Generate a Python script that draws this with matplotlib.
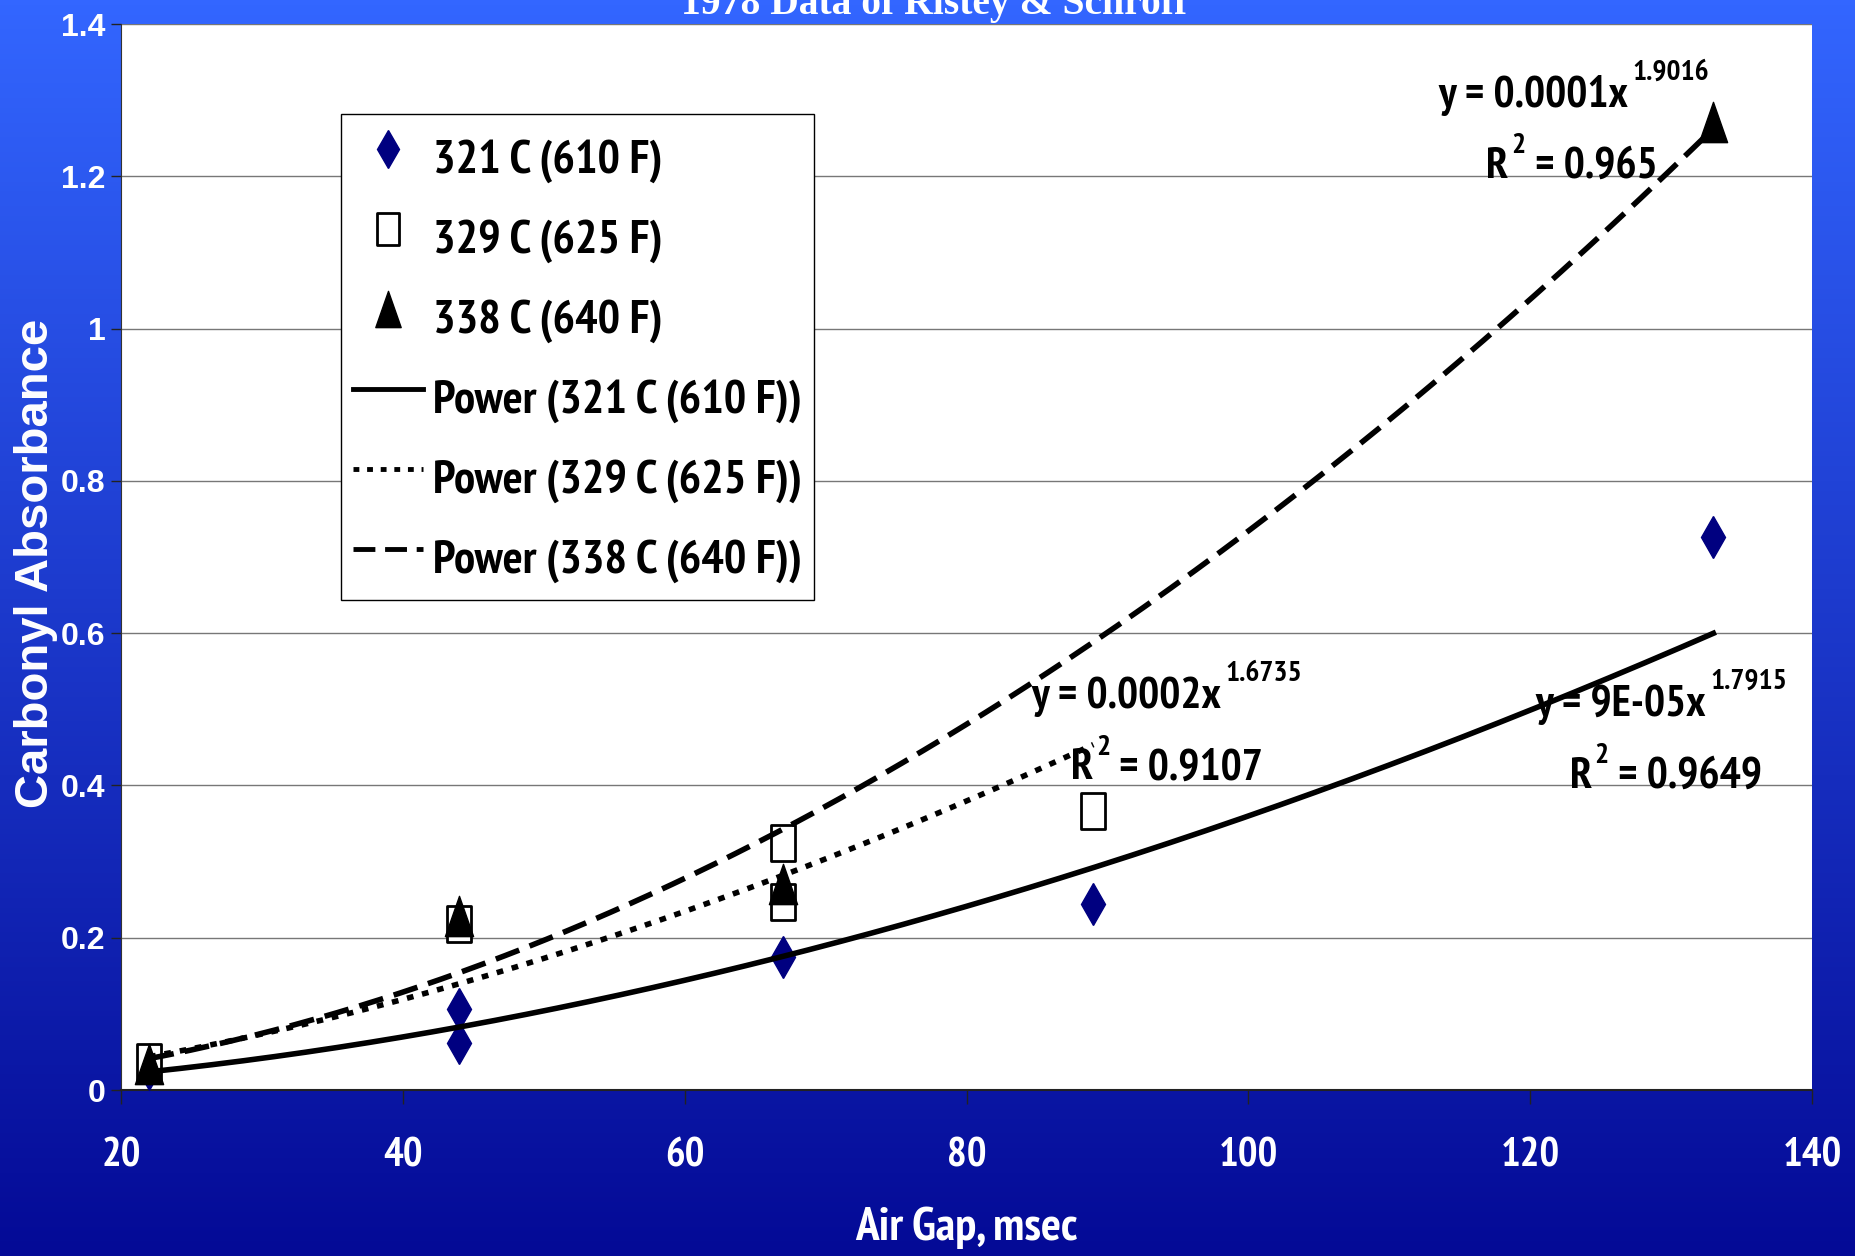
import os
import numpy as np
import matplotlib
matplotlib.use("Agg")
import matplotlib.pyplot as plt
from matplotlib import font_manager
from matplotlib.font_manager import FontProperties
from matplotlib.path import Path
from matplotlib.lines import Line2D

# measured carbonyl absorbance against air gap time, one list per oven temperature
gap_321 = [22, 44, 44, 67, 89, 133]
abs_321 = [0.027, 0.107, 0.062, 0.175, 0.244, 0.726]
gap_329 = [22, 44, 67, 67, 89]
abs_329 = [0.037, 0.218, 0.324, 0.247, 0.366]
gap_338 = [22, 44, 67, 133]
abs_338 = [0.034, 0.229, 0.271, 1.271]

series_names = ["321 C (610 F)", "329 C (625 F)", "338 C (640 F)"]

# power trendlines y = a * x**b with their R^2
fit_a = [9.4e-05, 2.48e-04, 1.155e-04]
fit_b = [1.7915, 1.6735, 1.9016]
fit_r2 = [0.9649, 0.9107, 0.965]

x_ticks = [20, 40, 60, 80, 100, 120, 140]
y_ticks = [0, 0.2, 0.4, 0.6, 0.8, 1, 1.2, 1.4]

W, H = 1856, 1256
fig = plt.figure(figsize=(W / 100, H / 100), dpi=100)
renderer = fig.canvas.get_renderer()

SAMPLE = "Power (338 C (640 F))"
SAMPLE_W = 370.0   # px, widest legend entry
DIGIT_H = 38.0     # px, height of the legend digits


def fit_size(path):
    # point size at which SAMPLE is SAMPLE_W wide, and the digit height there
    fp = FontProperties(fname=path, size=32)
    w, _, _ = renderer.get_text_width_height_descent(SAMPLE, fp, ismath=False)
    size = 32 * SAMPLE_W / w
    _, h, _ = renderer.get_text_width_height_descent(
        "0", FontProperties(fname=path, size=size), ismath=False)
    return size, h


def find_narrow_bold():
    # pick the condensed bold sans face whose proportions suit the labels best
    fallback = font_manager.findfont(FontProperties(family="Liberation Sans",
                                                    weight="bold"))
    cands = [fallback]
    for f in font_manager.fontManager.ttflist:
        name = os.path.basename(f.fname).lower()
        if "sans" not in name or "bold" not in name:
            continue
        if not ("narrow" in name or "condensed" in name):
            continue
        if any(k in name for k in ("italic", "oblique", "extrabold", "semibold",
                                   "serif", "mono")):
            continue
        cands.append(f.fname)
    best = min(cands, key=lambda p: abs(fit_size(p)[1] - DIGIT_H))
    return best, fit_size(best)[0] / 32


NARROW_FILE, SQUEEZE = find_narrow_bold()


def narrow(size):
    return FontProperties(fname=NARROW_FILE, size=size)


def nfs(size):
    return size * SQUEEZE


def coef_text(a):
    return f"{a:.4f}" if a >= 1e-4 else f"{a:.0E}"


# slide background: bright blue at the top fading to navy
bg = fig.add_axes([0, 0, 1, 1], zorder=-10)
top = np.array([51, 102, 255]) / 255
bottom = np.array([4, 10, 150]) / 255
t = np.linspace(0, 1, 256)[:, None]
grad = top * (1 - t) + bottom * t
bg.imshow(grad[:, None, :], aspect="auto", extent=[0, 1, 0, 1])
bg.axis("off")

ax = fig.add_axes([121 / W, 1 - 1090 / H, 1691 / W, 1066 / H])
ax.set_facecolor("white")
ax.set_xlim(20, 140)
ax.set_ylim(0, 1.4)
ax.set_xticks(x_ticks)
ax.set_yticks(y_ticks)
ax.set_yticklabels([f"{v:g}" for v in y_ticks])
ax.grid(axis="y", color="#777777", lw=1.0)
ax.set_axisbelow(True)
for side in ("top", "right"):
    ax.spines[side].set_visible(False)
ax.spines["left"].set_color("#333333")
ax.spines["bottom"].set_color("#222222")
ax.spines["bottom"].set_linewidth(1.5)
ax.tick_params(axis="x", length=10, width=1, color="#222222", pad=24,
               labelcolor="white")
ax.tick_params(axis="y", length=7, width=1, color="#222222", pad=4,
               labelcolor="white", labelsize=23)
for lbl in ax.get_xticklabels():
    lbl.set_fontproperties(narrow(nfs(28)))
for lbl in ax.get_yticklabels():
    lbl.set_fontfamily("Liberation Sans")
    lbl.set_fontweight("bold")

# tall open box and tall triangle markers
box = Path([(-0.34, -0.5), (0.34, -0.5), (0.34, 0.5), (-0.34, 0.5), (-0.34, -0.5)],
           [Path.MOVETO, Path.LINETO, Path.LINETO, Path.LINETO, Path.CLOSEPOLY])
tri = Path([(0, 0.5), (-0.35, -0.5), (0.35, -0.5), (0, 0.5)],
           [Path.MOVETO, Path.LINETO, Path.LINETO, Path.CLOSEPOLY])

navy = "#000080"
ax.plot(gap_321, abs_321, ls="none", marker="d", ms=21, color=navy, zorder=3)
ax.plot(gap_329, abs_329, ls="none", marker=box, ms=26, mfc="white",
        mec="black", mew=2, zorder=4)
ax.plot(gap_338, abs_338, ls="none", marker=tri, ms=29, color="black", zorder=5)

styles = ["-", (0, (1.2, 1.6)), (0, (4.5, 2))]
for gx, a, b, ls in zip([gap_321, gap_329, gap_338], fit_a, fit_b, styles):
    xs = np.linspace(min(gx), max(gx), 300)
    ax.plot(xs, a * xs ** b, color="black", lw=4, ls=ls, zorder=6,
            dash_capstyle="butt")

handles = [
    Line2D([], [], ls="none", marker="d", ms=21, color=navy),
    Line2D([], [], ls="none", marker=box, ms=26, mfc="white", mec="black", mew=2),
    Line2D([], [], ls="none", marker=tri, ms=29, color="black"),
    Line2D([], [], color="black", lw=3.5, ls=styles[0]),
    Line2D([], [], color="black", lw=3.5, ls=styles[1]),
    Line2D([], [], color="black", lw=3.5, ls=styles[2]),
]
labels = series_names + [f"Power ({n})" for n in series_names]
F = nfs(32)
# rows 45 pt tall on a 57.6 pt pitch, 8.5 pt padding inside the frame
row_h = 45.0
hh = (row_h - 0.245 * F) / (0.65 * F)
leg = ax.legend(handles, labels, loc="upper left", bbox_to_anchor=(0.130, 0.9156),
                borderaxespad=0, frameon=True, fancybox=False, edgecolor="black",
                framealpha=1, prop=narrow(F),
                handlelength=51 / F, handletextpad=7.0 / F,
                handleheight=hh, labelspacing=(57.6 - row_h) / F,
                borderpad=8.5 / F, markerscale=0.9)
leg.get_frame().set_linewidth(1.0)
leg.set_zorder(10)

# trendline equations
label_pos = [((120.4, 0.491), (122.8, 0.397)),
             ((84.6, 0.502), (87.4, 0.408)),
             ((113.5, 1.291), (116.9, 1.198))]
for (eq_xy, r_xy), a, b, r2 in zip(label_pos, fit_a, fit_b, fit_r2):
    eq = ax.text(*eq_xy, f"y = {coef_text(a)}x", fontproperties=narrow(nfs(30)),
                 va="baseline", zorder=7, color="black")
    ax.annotate(f"{b:.4f}", xy=(1, 0), xycoords=eq, xytext=(3, 26),
                textcoords="offset points", fontproperties=narrow(nfs(20)),
                va="baseline", ha="left", color="black")
    r = ax.text(*r_xy, "R", fontproperties=narrow(nfs(30)), va="baseline",
                zorder=7, color="black")
    sup = ax.annotate("2", xy=(1, 0), xycoords=r, xytext=(2, 24),
                      textcoords="offset points", fontproperties=narrow(nfs(20)),
                      va="baseline", ha="left", color="black")
    ax.annotate(f" = {r2:g}", xy=(1, 0), xycoords=(sup, r), va="bottom",
                ha="left", fontproperties=narrow(nfs(30)), color="black")

fig.text(966 / W, 1 - 1240 / H, "Air Gap, msec", ha="center", va="baseline",
         color="white", fontproperties=narrow(nfs(32)))
fig.text(36 / W, 1 - 563 / H, "Carbonyl Absorbance", rotation=90, ha="center",
         va="center", color="white", family="Liberation Sans", weight="bold", size=34)
fig.text(934 / W, 1 - 14 / H, "1978 Data of Ristey & Schroff", ha="center",
         va="baseline", color="white", family="Liberation Serif", weight="bold",
         size=28.5)

fig.savefig("out.png", dpi=100)
